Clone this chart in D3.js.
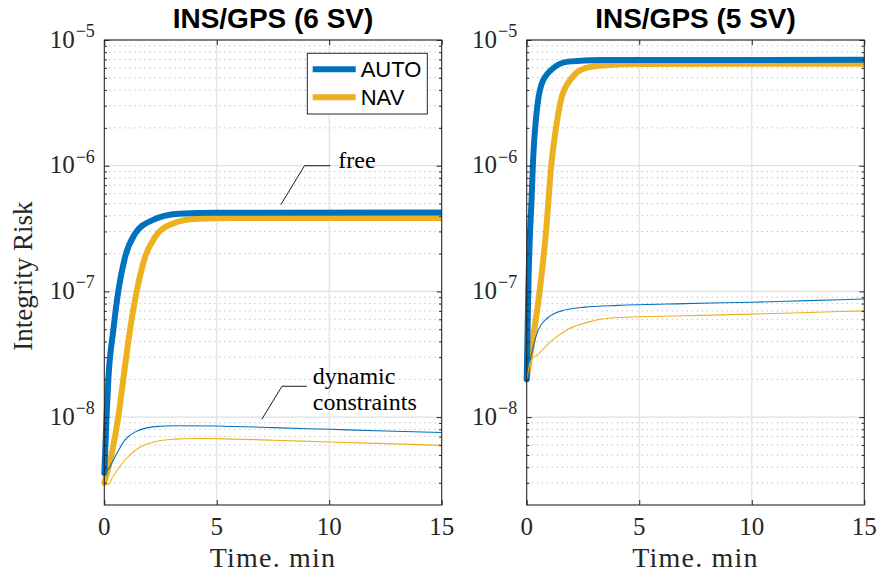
<!DOCTYPE html>
<html>
<head>
<meta charset="utf-8">
<script src="https://cdn.jsdelivr.net/npm/d3@7"></script>
<style>
body{margin:0;background:#fff;}
svg{display:block;}
</style>
</head>
<body>
<div id="chartWrapper"></div>
<script>
//data, [time in min, integrity risk]
const panelTitles = ['INS/GPS (6 SV)', 'INS/GPS (5 SV)'];
const seriesNames = ['AUTO', 'NAV'];
const xTicks = [0, 5, 10, 15];
const yTickExponents = [-8, -7, -6, -5];

//6 SV, free
const auto6Free = [[0,3.6e-9],[0.1,1e-8],[0.18,2e-8],[0.4,4.9e-8],[0.62,1e-7],[0.92,1.87e-7],[1.36,2.87e-7],[2.1,3.66e-7],[3.3,4.14e-7],[5,4.22e-7],[15,4.24e-7]];
const nav6Free = [[0,3.0e-9],[0.33,5.1e-9],[0.62,1e-8],[0.84,1.97e-8],[1.14,4.9e-8],[1.44,1e-7],[1.81,1.87e-7],[2.25,2.7e-7],[3.0,3.44e-7],[4.0,3.77e-7],[6,3.83e-7],[15,3.84e-7]];
//6 SV, dynamic constraints
const auto6Dyn = [[0,3.5e-9],[0.2,3.9e-9],[0.48,4.84e-9],[0.92,6.6e-9],[1.36,7.6e-9],[2.25,8.4e-9],[3.14,8.55e-9],[5,8.5e-9],[7.5,8.25e-9],[10,8.0e-9],[12.5,7.75e-9],[15,7.55e-9]];
const nav6Dyn = [[0,3.0e-9],[0.15,2.9e-9],[0.4,3.4e-9],[0.92,4.56e-9],[1.51,5.65e-9],[2.25,6.37e-9],[3.14,6.68e-9],[4,6.77e-9],[5,6.75e-9],[7.5,6.55e-9],[10,6.34e-9],[12.5,6.15e-9],[15,5.96e-9]];

//5 SV, free
const auto5Free = [[0,2e-8],[0.04,5e-8],[0.07,1e-7],[0.15,3e-7],[0.22,5.6e-7],[0.28,1.08e-6],[0.43,2.54e-6],[0.65,4.4e-6],[1.09,5.78e-6],[1.84,6.73e-6],[3.3,6.93e-6],[15,6.95e-6]];
const nav5Free = [[0,2e-8],[0.28,4.28e-8],[0.5,7.9e-8],[0.68,1.45e-7],[0.86,3.03e-7],[1.09,1.0e-6],[1.32,2.1e-6],[1.54,3.44e-6],[1.99,4.96e-6],[2.58,5.96e-6],[3.47,6.3e-6],[5,6.45e-6],[15,6.47e-6]];
//5 SV, dynamic constraints
const auto5Dyn = [[0,2e-8],[0.18,2.98e-8],[0.5,4.85e-8],[0.95,6.2e-8],[1.54,7.0e-8],[2.58,7.5e-8],[4.06,7.75e-8],[7,8.0e-8],[10,8.2e-8],[12.5,8.45e-8],[15,8.7e-8]];
const nav5Dyn = [[0,2e-8],[0.18,2.8e-8],[0.5,3.16e-8],[1.1,4.04e-8],[1.84,5.0e-8],[2.88,5.8e-8],[4.06,6.2e-8],[7,6.4e-8],[10,6.6e-8],[12.5,6.8e-8],[15,7.0e-8]];

//annotation leaders (data coords) on the 6 SV panel
const freeLeader = [[7.85,4.9e-7],[8.9,1.0e-6],[10.05,1.0e-6]];
const dynLeader = [[7.0,9.6e-9],[7.9,1.76e-8],[9.0,1.76e-8]];

const CONSTANTS = {
    WIDTH:881,
    HEIGHT:576,
    TOP:40,                       //top of the plot boxes
    BOTTOM:505,                   //bottom of the plot boxes
    LEFTS:[104.3, 526.7],         //left edge of each plot box
    RIGHTS:[441.7, 864.3],        //right edge of each plot box
    BLUE:'#0072BD',
    YELLOW:'#EDB120',
    AXIS:'#262626',
    SERIF:'"Liberation Serif", "DejaVu Serif", serif',
    SANS:'"Liberation Sans", Arial, sans-serif'
};

const svg = d3.select('#chartWrapper')
    .append('svg')
    .attr('width',CONSTANTS.WIDTH)
    .attr('height',CONSTANTS.HEIGHT);

const panels = [
    {title:panelTitles[0], series:[
        {data:nav6Free, color:CONSTANTS.YELLOW, width:6},
        {data:auto6Free, color:CONSTANTS.BLUE, width:6},
        {data:auto6Dyn, color:CONSTANTS.BLUE, width:1.1},
        {data:nav6Dyn, color:CONSTANTS.YELLOW, width:1.1}]},
    {title:panelTitles[1], series:[
        {data:nav5Free, color:CONSTANTS.YELLOW, width:6},
        {data:auto5Free, color:CONSTANTS.BLUE, width:6},
        {data:auto5Dyn, color:CONSTANTS.BLUE, width:1.1},
        {data:nav5Dyn, color:CONSTANTS.YELLOW, width:1.1}]}
];

panels.forEach((p,i)=>buildPanel(p,i));
buildLegend();
buildAnnotations();

function buildScales(i){
    let x = d3.scaleLinear().domain([0,15]).range([CONSTANTS.LEFTS[i],CONSTANTS.RIGHTS[i]]);
    let y = d3.scaleLog().domain([2e-9,1e-5]).range([CONSTANTS.BOTTOM,CONSTANTS.TOP]);
    return {x:x, y:y};
}

function buildPanel(panel,i){
    let s = buildScales(i);
    let g = svg.append('g').attr('class','panel');
    let left = CONSTANTS.LEFTS[i], right = CONSTANTS.RIGHTS[i];

    //minor y grid (dotted) and y tick values
    let minors = [];
    for(let e = -9; e <= -6; e++){
        for(let m = 2; m <= 9; m++){
            let v = m*Math.pow(10,e);
            if(v > 2e-9 && v < 1e-5) minors.push(v);
        }
    }
    let majors = yTickExponents.map(e=>Math.pow(10,e));

    g.selectAll('.minorGrid').data(minors).enter().append('line')
        .attr('x1',left).attr('x2',right)
        .attr('y1',d=>s.y(d)).attr('y2',d=>s.y(d))
        .attr('stroke','#b8b8b8').attr('stroke-width',1)
        .attr('stroke-dasharray','1.2,3.8');

    g.selectAll('.majorGrid').data(majors).enter().append('line')
        .attr('x1',left).attr('x2',right)
        .attr('y1',d=>s.y(d)).attr('y2',d=>s.y(d))
        .attr('stroke','#e0e0e0').attr('stroke-width',1.2);

    g.selectAll('.xGrid').data(xTicks.slice(1,-1)).enter().append('line')
        .attr('x1',d=>s.x(d)).attr('x2',d=>s.x(d))
        .attr('y1',CONSTANTS.TOP).attr('y2',CONSTANTS.BOTTOM)
        .attr('stroke','#e0e0e0').attr('stroke-width',1.2);

    //curves
    let clipId = 'clip'+i;
    svg.append('clipPath').attr('id',clipId).append('rect')
        .attr('x',left-5).attr('y',CONSTANTS.TOP)
        .attr('width',right-left+5).attr('height',CONSTANTS.BOTTOM-CONSTANTS.TOP+5);

    let line = d3.line()
        .x(d=>s.x(d[0]))
        .y(d=>s.y(d[1]))
        .curve(d3.curveMonotoneX);

    g.append('g').attr('clip-path','url(#'+clipId+')')
        .selectAll('path').data(panel.series).enter().append('path')
        .attr('d',d=>line(d.data))
        .attr('fill','none')
        .attr('stroke',d=>d.color)
        .attr('stroke-width',d=>d.width)
        .attr('stroke-linejoin','round')
        .attr('stroke-linecap',d=>d.width > 2 ? 'round' : 'butt');

    //axes box with inward ticks
    let axisG = g.append('g');
    let yLeft = d3.axisRight(s.y).tickValues(majors).tickSize(5).tickFormat('');
    let yRight = d3.axisLeft(s.y).tickValues(majors).tickSize(5).tickFormat('');
    axisG.append('g').attr('transform','translate('+left+',0)').call(yLeft);
    axisG.append('g').attr('transform','translate('+right+',0)').call(yRight);
    axisG.append('g').attr('transform','translate('+left+',0)')
        .call(d3.axisRight(s.y).tickValues(minors).tickSize(2.6).tickFormat(''));
    axisG.append('g').attr('transform','translate('+right+',0)')
        .call(d3.axisLeft(s.y).tickValues(minors).tickSize(2.6).tickFormat(''));
    axisG.append('g').attr('transform','translate(0,'+CONSTANTS.BOTTOM+')')
        .call(d3.axisTop(s.x).tickValues(xTicks).tickSize(5).tickFormat(''));
    axisG.append('g').attr('transform','translate(0,'+CONSTANTS.TOP+')')
        .call(d3.axisBottom(s.x).tickValues(xTicks).tickSize(5).tickFormat(''));
    axisG.selectAll('.domain').remove();
    axisG.selectAll('line').attr('stroke',CONSTANTS.AXIS).attr('stroke-width',1);

    g.append('rect')
        .attr('x',left).attr('y',CONSTANTS.TOP)
        .attr('width',right-left).attr('height',CONSTANTS.BOTTOM-CONSTANTS.TOP)
        .attr('fill','none').attr('stroke',CONSTANTS.AXIS).attr('stroke-width',1.1);

    //tick labels
    let yLab = g.selectAll('.yLabel').data(yTickExponents).enter().append('text')
        .attr('x',left-9.5)
        .attr('y',d=>s.y(Math.pow(10,d))+7.5)
        .attr('text-anchor','end')
        .attr('fill',CONSTANTS.AXIS)
        .style('font-family',CONSTANTS.SERIF)
        .style('font-size','25px')
        .text('10');
    yLab.append('tspan').attr('dy',-10.5).attr('dx',1).style('font-size','18px').text(d=>'\u2212'+Math.abs(d));

    g.selectAll('.xLabel').data(xTicks).enter().append('text')
        .attr('x',d=>s.x(d))
        .attr('y',535)
        .attr('text-anchor','middle')
        .attr('fill',CONSTANTS.AXIS)
        .style('font-family',CONSTANTS.SERIF)
        .style('font-size','25px')
        .text(d=>d);

    g.append('text')
        .attr('x',(left+right)/2)
        .attr('y',567)
        .attr('text-anchor','middle')
        .attr('fill',CONSTANTS.AXIS)
        .style('font-family',CONSTANTS.SERIF)
        .style('font-size','28px')
        .style('letter-spacing','1.2px')
        .text('Time. min');

    if(i === 0){
        g.append('text')
            .attr('transform','translate(32,276) rotate(-90)')
            .attr('text-anchor','middle')
            .attr('fill',CONSTANTS.AXIS)
            .style('font-family',CONSTANTS.SERIF)
            .style('font-size','27px')
            .text('Integrity Risk');
    }

    //title
    g.append('text')
        .attr('x',(left+right)/2)
        .attr('y',28)
        .attr('text-anchor','middle')
        .attr('fill','#000')
        .style('font-family',CONSTANTS.SANS)
        .style('font-weight','bold')
        .style('font-size','28px')
        .text(panel.title);
}

function buildLegend(){
    let colors = [CONSTANTS.BLUE, CONSTANTS.YELLOW];
    let lg = svg.append('g').attr('id','legend');
    lg.append('rect')
        .attr('x',307.3).attr('y',53.3).attr('width',120).attr('height',60.7)
        .attr('fill','#fff').attr('stroke',CONSTANTS.AXIS).attr('stroke-width',1);
    let rows = lg.selectAll('.row').data(seriesNames).enter().append('g')
        .attr('transform',(d,i)=>'translate(312.7,'+(69.3+28*i)+')');
    rows.append('line')
        .attr('x1',0).attr('x2',43).attr('y1',0).attr('y2',0)
        .attr('stroke',(d,i)=>colors[i]).attr('stroke-width',6);
    rows.append('text')
        .attr('x',48).attr('y',8)
        .attr('fill','#000')
        .style('font-family',CONSTANTS.SANS)
        .style('font-size','22px')
        .text(d=>d);
}

function buildAnnotations(){
    let s = buildScales(0);
    let line = d3.line().x(d=>s.x(d[0])).y(d=>s.y(d[1]));
    let ag = svg.append('g').attr('id','annotations');
    [freeLeader, dynLeader].forEach(p=>{
        ag.append('path').attr('d',line(p))
            .attr('fill','none').attr('stroke','#000').attr('stroke-width',0.9);
    });
    let fEnd = freeLeader[freeLeader.length-1];
    ag.append('text')
        .attr('x',s.x(fEnd[0])+8).attr('y',s.y(fEnd[1])+2.7)
        .style('font-family',CONSTANTS.SERIF).style('font-size','24px')
        .text('free');
    let dEnd = dynLeader[dynLeader.length-1];
    let dt = ag.append('text')
        .style('font-family',CONSTANTS.SERIF).style('font-size','24px');
    dt.append('tspan').attr('x',s.x(dEnd[0])+6).attr('y',s.y(dEnd[1])-2.7).text('dynamic');
    dt.append('tspan').attr('x',s.x(dEnd[0])+6).attr('y',s.y(dEnd[1])+24).text('constraints');
}
</script>
</body>
</html>
